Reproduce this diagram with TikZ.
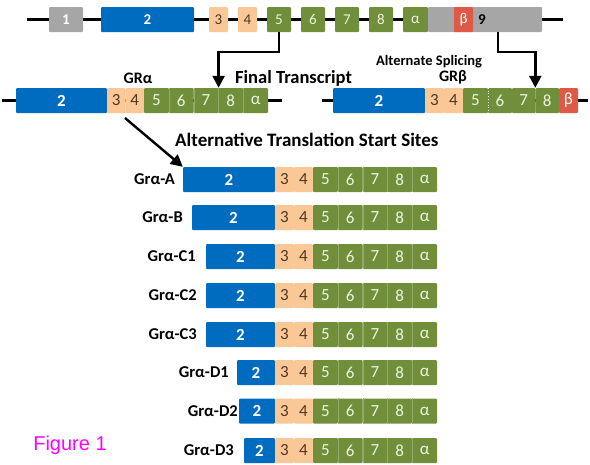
\documentclass[tikz,border=0pt]{standalone}
\usepackage{fontspec}
\setmainfont{Carlito}
\newfontfamily\figfont{Liberation Sans}
\usetikzlibrary{arrows.meta}
\definecolor{gblue}{RGB}{0,108,192}
\definecolor{ggray}{RGB}{166,166,166}
\definecolor{gpeach}{RGB}{250,200,150}
\definecolor{ggreen}{RGB}{113,143,58}
\definecolor{gred}{RGB}{222,90,70}
\definecolor{gbrown}{RGB}{80,55,35}
\definecolor{gltext}{RGB}{236,242,222}
\definecolor{gmag}{RGB}{255,0,255}
\newcommand\ex[6]{\node[exbox,#5,minimum width={#3pt-#2pt}] (#1) at ({(#2+#3)/2},#4) {#6};}
\tikzset{
  exbox/.style={draw=none, rounded corners=1pt, inner sep=0pt, minimum height=25pt},
  grayex/.style={fill=ggray, text=white, font=\fontsize{15}{15}\selectfont\bfseries},
  blueex/.style={fill=gblue, text=white, font=\fontsize{17}{17}\selectfont\bfseries},
  peachex/.style={fill=gpeach, text=gbrown, font=\fontsize{17}{17}\selectfont},
  greenex/.style={fill=ggreen, text=gltext, font=\fontsize{17}{17}\selectfont},
  gsep/.style={draw=ggreen!75!white, line width=0.5pt},
  redex/.style={fill=gred, text=white, font=\fontsize{17}{17}\selectfont},
  backbone/.style={line width=3pt, black},
  arr/.style={line width=2.4pt, black, -{Triangle[length=12pt,width=12pt]}},
  lab/.style={font=\fontsize{16.5}{16.5}\selectfont\bfseries, inner sep=0pt},
}
\begin{document}
\begin{tikzpicture}[x=1pt,y=-1pt]
\useasboundingbox (0,0) rectangle (590,464);
% ---------- top gene ----------
\coordinate (tl) at (27,19.5);
\coordinate (tr) at (563,19.5);
\draw[backbone] (tl) -- (tr);
\ex{t1}{49}{83}{19.5}{grayex}{1}
\ex{t2}{101}{194}{19.5}{blueex,font=\fontsize{15}{15}\selectfont\bfseries}{2}
\ex{t3}{209}{228}{19.5}{peachex,font=\fontsize{15}{15}\selectfont}{3}
\ex{t4}{238}{257}{19.5}{peachex,font=\fontsize{15}{15}\selectfont}{4}
\ex{t5}{267}{291}{19.5}{greenex,font=\fontsize{15}{15}\selectfont}{5}
\ex{t6}{301}{325}{19.5}{greenex,font=\fontsize{15}{15}\selectfont}{6}
\ex{t7}{335}{359}{19.5}{greenex,font=\fontsize{15}{15}\selectfont}{7}
\ex{t8}{369}{393}{19.5}{greenex,font=\fontsize{15}{15}\selectfont}{8}
\ex{ta}{403}{428}{19.5}{greenex,font=\fontsize{15}{15}\selectfont}{α}
\ex{t9}{428}{542}{19.5}{grayex}{}
\ex{tb}{454}{473}{19.5}{redex,font=\fontsize{15}{15}\selectfont}{β}
\node[font=\fontsize{15}{15}\selectfont\bfseries, anchor=west, inner sep=0pt] (t9lab) at (478,19.5) {9};
% ---------- GR alpha ----------
\coordinate (al) at (2,100.5);
\coordinate (ar) at (282,100.5);
\draw[backbone] (al) -- (ar);
\ex{a2}{16}{107}{100.5}{blueex}{2}
\ex{a3}{107}{125.5}{100.5}{peachex}{3}
\ex{a4}{125.5}{144}{100.5}{peachex}{4}
\ex{a5}{144}{168.8}{100.5}{greenex}{5}
\ex{a6}{168.8}{193.6}{100.5}{greenex}{6}
\ex{a7}{193.6}{218.4}{100.5}{greenex}{7}
\ex{a8}{218.4}{243.2}{100.5}{greenex}{8}
\ex{aa}{243.2}{268}{100.5}{greenex}{α}
\foreach \s in {a5,a6,a7,a8} \draw[gsep] (\s.north east) -- (\s.south east);
\node[lab, font=\fontsize{16}{16}\selectfont\bfseries] (galab) at (138,78) {GRα};
\node[lab, font=\fontsize{18.5}{18.5}\selectfont\bfseries, anchor=west] (ftlab) at (235,78) {Final Transcript};
% ---------- GR beta ----------
\coordinate (bl) at (322,100.5);
\coordinate (br) at (588,100.5);
\draw[backbone] (bl) -- (br);
\ex{b2}{333}{425}{100.5}{blueex}{2}
\ex{b3}{425}{444}{100.5}{peachex}{3}
\ex{b4}{444}{463}{100.5}{peachex}{4}
\ex{b5}{463}{488}{100.5}{greenex}{5}
\ex{b6}{488}{512}{100.5}{greenex}{6}
\ex{b7}{512}{535.5}{100.5}{greenex}{7}
\ex{b8}{535.5}{559}{100.5}{greenex}{8}
\ex{bb}{559}{578}{100.5}{redex}{β}
\draw[white, line width=0.8pt, dotted] (b5.north east) -- (b5.south east);
\node[lab, font=\fontsize{14.5}{14.5}\selectfont\bfseries] (aslab) at (429,62) {Alternate Splicing};
\node[lab, font=\fontsize{16}{16}\selectfont\bfseries] (gblab) at (453,77) {GRβ};
% ---------- connectors ----------
\draw[arr] (t5.south) -- ++(0,20) -| (a7.north east);
\coordinate (s9) at (498,32);
\draw[arr] (s9) -- ++(0,20) -| (b8.north west);
% ---------- isoforms ----------
\node[lab, font=\fontsize{19}{19}\selectfont\bfseries, anchor=west] (atlab) at (175,140) {Alternative Translation Start Sites};
\foreach \n/\y/\bx/\lx/\lab in {A/179.5/183/175/Grα-A, B/217.5/192/183/Grα-B, C1/256.5/206/196/Grα-C1, C2/295.5/206/197/Grα-C2, C3/334.5/206/197/Grα-C3, D1/372.5/237/229/Grα-D1, D2/411/239/238/Grα-D2, D3/450.5/244/234/Grα-D3}{
  \ex{i\n-2}{\bx}{275}{\y}{blueex}{2}
  \ex{i\n-3}{275}{294}{\y}{peachex}{3}
  \ex{i\n-4}{294}{313}{\y}{peachex}{4}
  \ex{i\n-5}{313}{337.8}{\y}{greenex}{5}
  \ex{i\n-6}{337.8}{362.6}{\y}{greenex}{6}
  \ex{i\n-7}{362.6}{387.4}{\y}{greenex}{7}
  \ex{i\n-8}{387.4}{412.2}{\y}{greenex}{8}
  \ex{i\n-9}{412.2}{437}{\y}{greenex}{α}
  \foreach \s in {5,6,7,8} \draw[gsep] (i\n-\s.north east) -- (i\n-\s.south east);
  \node[lab, anchor=east] (l\n) at (\lx,\y) {\lab};
}
\coordinate (gs) at (125,118);
\draw[arr] (gs) -- (iA-2.north west);
\node[font=\figfont\fontsize{20}{20}\selectfont, text=gmag, inner sep=0pt] (fig) at (70,445) {Figure 1};
\end{tikzpicture}
\end{document}
